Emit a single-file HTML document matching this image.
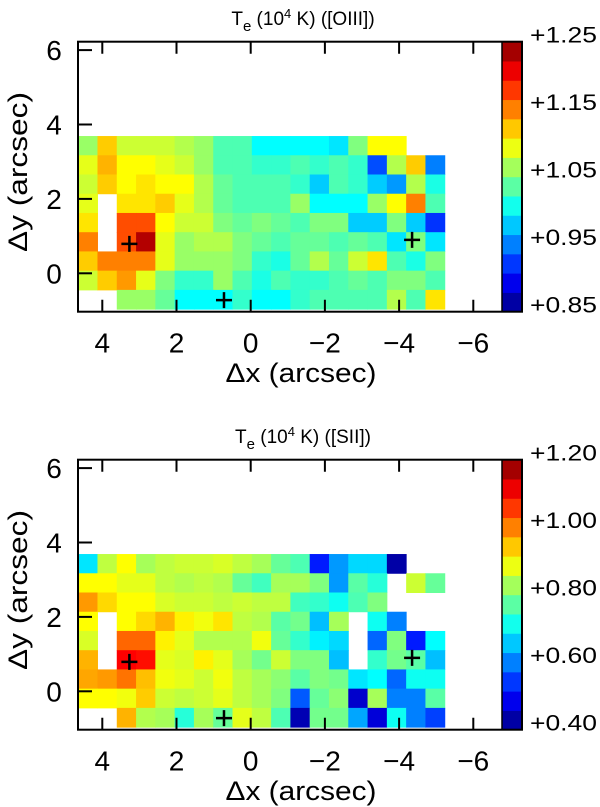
<!DOCTYPE html>
<html><head><meta charset="utf-8"><style>
body{margin:0;background:#fff}
svg{display:block;font-family:"Liberation Sans",sans-serif}
</style></head><body>
<svg id="fig" width="600" height="807" viewBox="0 0 600 807"></svg>
<script>
const xTicks=[4,2,0,-2,-4,-6];
const yTicks=[6,4,2,0];
const oiiiRange=[0.85,1.25];
const oiiiLabels=["+0.85","+0.95","+1.05","+1.15","+1.25"];
const siiRange=[0.40,1.20];
const siiLabels=["+0.40","+0.60","+0.80","+1.00","+1.20"];
const markersX=[3.27,0.72,-4.35];
const markersY=[0.79,-0.72,0.9];
const N=null;
const oiii=[
[1.06,1.12,1.08,1.08,1.08,1.07,1.06,1.03,1.03,1.00,1.00,1.00,1.00,0.99,1.05,1.10,1.10,N,N],
[1.09,1.13,1.10,1.10,1.09,1.08,1.06,1.03,1.03,1.02,1.02,1.03,1.02,1.03,1.02,0.93,1.07,1.12,0.95],
[1.08,1.12,1.10,1.11,1.10,1.10,1.07,1.04,1.03,1.03,1.03,1.02,0.98,1.03,1.02,0.98,0.96,1.07,1.01],
[1.09,N,1.11,1.11,1.12,1.09,1.07,1.04,1.03,1.03,1.03,1.06,1.00,1.00,1.00,1.06,1.10,1.15,1.03],
[1.11,N,1.17,1.17,1.10,1.08,1.08,1.05,1.04,1.05,1.04,1.03,1.05,1.05,0.98,0.98,1.05,0.98,0.92],
[1.15,N,1.17,1.23,1.09,1.06,1.07,1.07,1.05,1.04,1.03,1.04,1.04,1.03,1.04,1.03,0.99,1.05,0.99],
[1.12,1.15,1.15,1.15,1.09,1.06,1.06,1.06,1.05,1.02,1.01,1.04,1.07,1.04,1.08,1.11,1.03,1.01,1.05],
[1.08,1.12,1.14,1.09,1.05,1.02,1.02,1.06,1.03,1.01,1.03,1.02,1.02,1.03,1.04,1.03,1.05,1.05,1.03],
[N,N,1.06,1.06,1.04,1.00,1.00,1.00,1.02,1.00,1.00,1.02,1.03,1.03,1.03,1.03,1.07,1.03,1.11]];
const sii=[
[0.68,0.85,0.90,0.83,0.85,0.86,0.86,0.87,0.85,0.83,0.78,0.76,0.52,0.62,0.67,0.67,0.43,N,N],
[0.90,0.90,0.88,0.88,0.85,0.84,0.85,0.84,0.78,0.75,0.83,0.83,0.80,0.62,0.77,0.73,N,0.86,0.78],
[0.98,0.93,0.90,0.90,0.87,0.86,0.86,0.85,0.86,0.85,0.85,0.75,0.74,0.71,0.76,0.80,N,N,N],
[0.90,N,0.90,0.93,0.96,0.91,0.89,0.92,0.85,0.84,0.77,0.79,0.65,0.83,N,0.71,0.60,N,N],
[0.87,N,1.02,1.02,0.91,0.88,0.84,0.84,0.84,0.89,0.78,0.74,0.69,0.67,N,0.58,0.80,0.52,0.70],
[0.96,N,1.10,1.09,0.88,0.87,0.91,0.88,0.83,0.79,0.86,0.80,0.80,0.65,N,0.74,0.79,0.77,0.65],
[0.97,0.98,1.01,0.95,0.89,0.88,0.86,0.89,0.85,0.83,0.81,0.77,0.80,0.79,0.68,0.70,0.58,0.71,0.71],
[0.90,0.90,0.89,0.94,0.86,0.85,0.86,0.88,0.85,0.83,0.80,0.57,0.78,0.81,0.46,0.83,0.60,0.60,0.77],
[N,N,0.96,0.84,0.83,0.73,0.83,0.78,0.88,0.85,0.76,0.44,0.79,0.79,0.63,0.47,0.71,0.60,0.55]];

const NS="http://www.w3.org/2000/svg";
const svg=document.getElementById('fig');
function mk(tag,attrs,parent){const e=document.createElementNS(NS,tag);for(const k in attrs)e.setAttribute(k,attrs[k]);(parent||svg).appendChild(e);return e;}
function jet(t){t=Math.max(0,Math.min(1,t));const c=v=>Math.round(255*Math.max(0,Math.min(1,v)));
return `rgb(${c(1.5-Math.abs(4*t-3))},${c(1.5-Math.abs(4*t-2))},${c(1.5-Math.abs(4*t-1))})`;}
const L=78,R=502,CB=522,PX=37.1,PY=37.2,X0=250.7;
const cellX0=4.65,cellW=0.52,cellY0=3.69,cellH=0.517;

function panel(off,title,data,range,labels,name){
  const g=mk('g',{});
  
  
  const top=41.7+off,bot=311.7+off,Y0=273.3+off;
  const sx=v=>X0-v*PX, sy=v=>Y0-v*PY;
  const t=mk('text',{x:303,y:25+off,'text-anchor':'middle','font-size':19},g);
  
  
  t.innerHTML='T<tspan font-size="15" dy="6">e</tspan><tspan dy="-6"> (10</tspan><tspan font-size="13" dy="-7">4</tspan><tspan dy="7"> K) ('+title+')</tspan>';
  data.forEach((row,i)=>row.forEach((v,j)=>{
    if(v===null)return;
    const x1=sx(cellX0-j*cellW),x2=sx(cellX0-(j+1)*cellW);
    const y1=sy(cellY0-i*cellH),y2=sy(cellY0-(i+1)*cellH);
    const r=mk('rect',{x:x1,y:y1,width:x2-x1+0.5,height:y2-y1+0.5,fill:jet((v-range[0])/(range[1]-range[0]))},g);
    
    
  }));
  const nb=14;
  for(let k=0;k<nb;k++){
    const h=(bot-top)/nb;
    const r=mk('rect',{x:R,y:bot-(k+1)*h,width:CB-R,height:h+0.5,fill:jet((k+0.5)/nb)},g);
    
    
  }
  labels.forEach((s,k)=>{
    const y=bot-k*(bot-top)/(labels.length-1);
    const tx=mk('text',{x:530,y:y+1,'font-size':22,textLength:67,lengthAdjust:'spacingAndGlyphs'},g);
    tx.textContent=s;
    
    
  });
  markersX.forEach((mx,k)=>{
    const cx=sx(mx),cy=sy(markersY[k]);
    const p=mk('path',{d:`M${cx-8} ${cy}H${cx+8}M${cx} ${cy-8}V${cy+8}`,stroke:'#000','stroke-width':2.5},g);
    
    
  });
  xTicks.forEach(v=>{
    const x=sx(v);
    mk('path',{d:`M${x} ${bot}v-12M${x} ${top}v12`,stroke:'#000','stroke-width':2},g);
    const tx=mk('text',{x:x,y:bot+41,'text-anchor':'middle','font-size':28},g);
    tx.textContent=v<0?'\u2212'+(-v):String(v);
    
    
  });
  yTicks.forEach(v=>{
    const y=sy(v);
    mk('path',{d:`M${L} ${y}h14`,stroke:'#000','stroke-width':2},g);
    const tx=mk('text',{x:54,y:y+10,'text-anchor':'middle','font-size':28},g);
    tx.textContent=String(v);
    
    
  });
  const fr=mk('rect',{x:L,y:top,width:CB-L,height:bot-top,fill:'none',stroke:'#000','stroke-width':2},g);
  
  
  mk('line',{x1:R,y1:top,x2:R,y2:bot,stroke:'#000','stroke-width':1.5},g);
  const xt=mk('text',{x:301,y:382+off,'text-anchor':'middle','font-size':27,textLength:151,lengthAdjust:'spacingAndGlyphs'},g);
  xt.textContent='\u0394x (arcsec)';
  
  
  const yt=mk('text',{x:0,y:0,'text-anchor':'middle','font-size':27,textLength:160,lengthAdjust:'spacingAndGlyphs',transform:`translate(27,${172+off}) rotate(-90)`},g);
  yt.textContent='\u0394y (arcsec)';
  
  
}
panel(0,'[OIII]',oiii,oiiiRange,oiiiLabels,'oiii-panel');
panel(418,'[SII]',sii,siiRange,siiLabels,'sii-panel');
</script>
</body></html>
